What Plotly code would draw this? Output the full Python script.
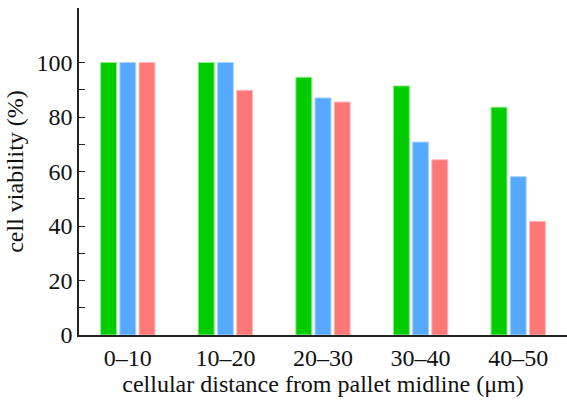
import plotly.graph_objects as go

categories = ["0–10", "10–20", "20–30", "30–40", "40–50"]
series_a = [100, 100, 94.6, 91.4, 83.6]
series_b = [100, 100, 87.0, 70.8, 58.1]
series_c = [100, 89.8, 85.5, 64.3, 41.7]

colors = ["#00CC00", "#55AAFF", "#FF7777"]
edge = ["#88EE88", "#AAD4FF", "#FFBBBB"]

fig = go.Figure()
for vals, c, e in zip([series_a, series_b, series_c], colors, edge):
    fig.add_trace(go.Bar(x=categories, y=vals, marker=dict(color=c, line=dict(color=e, width=1)),
                         showlegend=False))

font = "Liberation Serif"
fig.update_layout(
    width=567, height=401,
    margin=dict(l=79, r=0, t=8, b=66),
    plot_bgcolor="white", paper_bgcolor="white",
    barmode="group", bargap=0.41, bargroupgap=0.17,
    font=dict(family=font, size=24, color="#111"),
    xaxis=dict(range=[-0.5, 4.5], showline=True, linecolor="#222", linewidth=1.5,
               ticks="", showgrid=False,
               title=dict(text="cellular distance from pallet midline (μm)", font=dict(family=font, size=24), standoff=2),
               tickfont=dict(family=font, size=24)),
    yaxis=dict(range=[0, 120], showline=True, linecolor="#222", linewidth=1.5,
               ticks="inside", ticklen=6, tickcolor="#222", tickvals=[0, 20, 40, 60, 80, 100],
               minor=dict(ticks="inside", ticklen=6, tickcolor="#222", tickvals=[10, 30, 50, 70, 90]),
               showgrid=False, zeroline=False,
               title=dict(text="cell viability (%)", font=dict(family=font, size=24), standoff=6),
               tickfont=dict(family=font, size=24)),
)
fig.write_html("out.html")
